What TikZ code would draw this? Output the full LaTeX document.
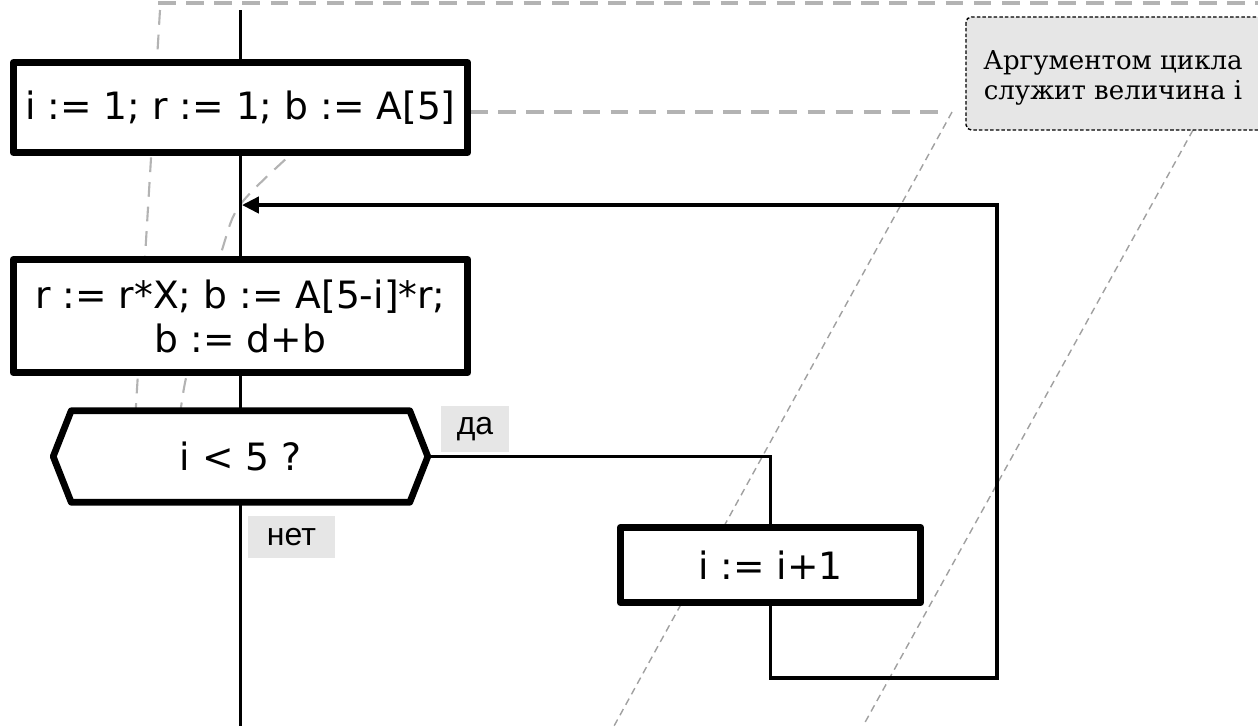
\documentclass[tikz,border=0pt]{standalone}
\usepackage{fontspec}
\setmainfont{DejaVu Sans}
\newfontfamily\notefont{DejaVu Serif}
\newfontfamily\tagfont{Liberation Sans}
\usepackage{tikz}
\usepackage{xcolor}
\usetikzlibrary{positioning, arrows.meta, backgrounds}
\definecolor{guidegray}{HTML}{B3B3B3}
\definecolor{thingray}{HTML}{A0A0A0}
\definecolor{tagfill}{HTML}{E6E6E6}

\tikzset{
    op/.style={draw, line width=1.9pt, line join=round, fill=white, align=center,
        minimum width=4.544cm, inner sep=0pt, font=\fontsize{10.7}{12.5}\selectfont},
    hexline/.style={draw, line width=1.9pt, line join=round, fill=white},
    flow/.style={line width=1.05pt},
    tag/.style={fill=tagfill, inner sep=0pt, font=\tagfont\fontsize{9.1}{11}\selectfont},
    notebox/.style={draw, fill=tagfill, line width=0.4pt, dash pattern=on 1pt off 0.6pt, rounded corners=1.5pt},
    notetext/.style={align=center, inner sep=0pt, font=\notefont\fontsize{7.4}{8.5}\selectfont},
    guidethick/.style={draw=guidegray, line width=0.95pt, dash pattern=on 5pt off 3pt},
    guidemid/.style={draw=guidegray, line width=0.6pt, dash pattern=on 4.2pt off 2.8pt},
    guidethin/.style={draw=thingray, line width=0.4pt, dash pattern=on 2pt off 1.4pt}
}

\begin{document}
\begin{tikzpicture}[x=0.01cm, y=-0.01cm]
        \useasboundingbox (0,0) rectangle (1258,726);

        \coordinate (top) at (240.5, 10);
        \coordinate (bottom) at (240.5, 726);
        \coordinate (join) at (242, 205);
        \coordinate (turn) at (997, 678);

        \node [op, minimum height=0.9cm] (init) at (240.5, 107.5) {i := 1; r := 1; b := A[5]};
        \node [op, minimum height=1.134cm] (body) at (240.5, 316) {r := r*X; b := A[5-i]*r;\\b := d+b};
        \node [minimum width=3.73cm, minimum height=0.9cm, inner sep=0pt] (cond) at (240.5, 456.5) {};
        \draw [hexline] (cond.west) -- ([xshift=0.18cm]cond.north west) -- ([xshift=-0.18cm]cond.north east)
            -- (cond.east) -- ([xshift=-0.18cm]cond.south east) -- ([xshift=0.18cm]cond.south west) -- cycle;
        \node [font=\fontsize{10.7}{12.5}\selectfont] (condtext) at (cond.center) {i < 5 ?};
        \node [op, minimum width=3.004cm, minimum height=0.754cm] (inc) at (770.5, 565) {i := i+1};

        \node [tag, minimum width=0.68cm, minimum height=0.46cm] (yes) at (475, 429) {да};
        \node [tag, minimum width=0.87cm, minimum height=0.42cm] (no) at (291.5, 537) {нет};

        \draw [notebox] (966, 17) rectangle (1266, 130);
        \node [notetext] (note) at (1113, 78) {Аргументом цикла\\служит величина i};

        \draw [flow] (top) -- (init);
        \draw [flow] (init) -- (body);
        \draw [flow] (body) -- (cond);
        \draw [flow] (cond) -- (bottom);
        \draw [flow] (cond.east) -| (inc.north);
        \draw [flow, -{Triangle[length=4.8pt, width=4.6pt]}] (inc.south) |- (turn) |- (join);

        \begin{scope}[on background layer]
            \draw [guidethick] (158, 3) -- (1258, 3);
            \draw [guidethick] (470, 112) -- (945, 112);
            \draw [guidethin] (952, 112) -- (614, 726);
            \draw [guidethin] (1193, 130) -- (863, 726);
            \draw [guidemid] (160, 10) -- (133, 455);
            \draw [guidemid] plot [smooth] coordinates {(305, 145) (288, 157) (240, 205) (222, 250) (186, 378) (176, 455)};
        \end{scope}
    \end{tikzpicture}
\end{document}
